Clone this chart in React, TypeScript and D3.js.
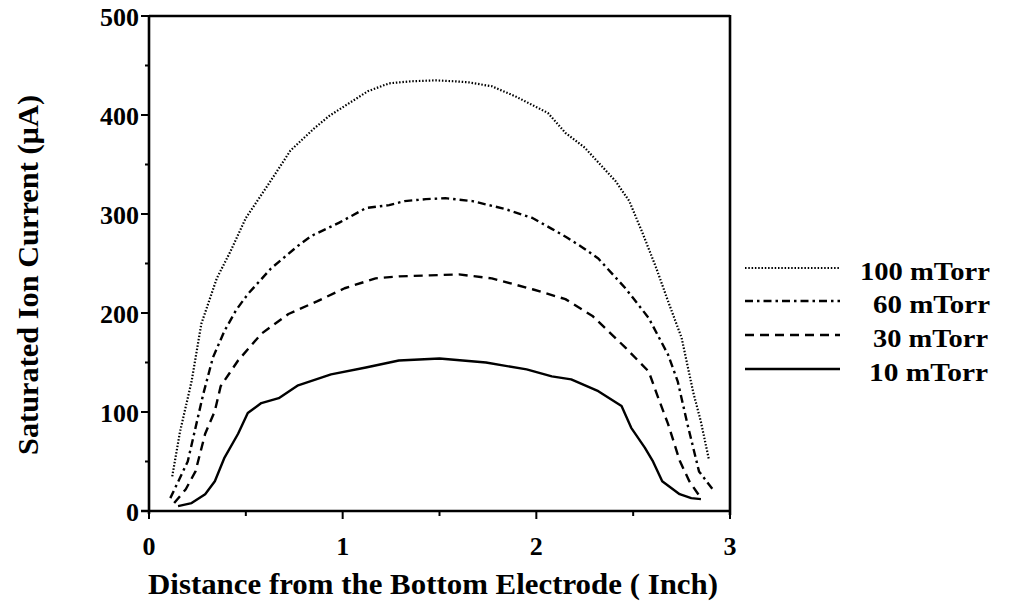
import React from "react";
import * as d3 from "d3";

// Distance from the bottom electrode (inch) and saturated ion current (µA) per pressure
const x100 = [0.12, 0.16, 0.22, 0.27, 0.35, 0.42, 0.50, 0.62, 0.73, 0.85, 0.93, 1.05, 1.13, 1.24, 1.35, 1.48, 1.58, 1.65, 1.77, 1.89, 1.98, 2.06, 2.15, 2.25, 2.33, 2.41, 2.48, 2.55, 2.62, 2.68, 2.75, 2.81, 2.85, 2.89];
const y100 = [35, 80, 131, 189, 235, 262, 296, 331, 364, 386, 399, 414, 424, 432, 434, 435, 434, 433, 429, 419, 410, 402, 382, 367, 350, 333, 313, 280, 245, 212, 175, 120, 90, 53];

const x60 = [0.11, 0.20, 0.28, 0.33, 0.39, 0.45, 0.51, 0.63, 0.77, 0.84, 0.98, 1.12, 1.24, 1.32, 1.43, 1.53, 1.67, 1.84, 1.98, 2.08, 2.16, 2.24, 2.32, 2.46, 2.58, 2.68, 2.73, 2.78, 2.84, 2.91];
const y60 = [13, 50, 118, 155, 182, 203, 219, 245, 268, 278, 291, 306, 309, 313, 315, 316, 313, 305, 296, 285, 276, 266, 255, 225, 195, 158, 131, 88, 40, 22];

const x30 = [0.13, 0.19, 0.24, 0.29, 0.34, 0.37, 0.46, 0.58, 0.72, 0.87, 1.01, 1.17, 1.29, 1.45, 1.60, 1.77, 1.98, 2.15, 2.29, 2.46, 2.58, 2.63, 2.68, 2.74, 2.79, 2.85];
const y30 = [8, 22, 40, 78, 101, 126, 152, 179, 199, 212, 225, 235, 237, 238, 239, 235, 224, 214, 197, 165, 141, 114, 88, 51, 30, 13];

const x10 = [0.15, 0.22, 0.29, 0.34, 0.39, 0.46, 0.51, 0.58, 0.67, 0.77, 0.94, 1.12, 1.29, 1.50, 1.74, 1.95, 2.08, 2.18, 2.32, 2.44, 2.49, 2.56, 2.60, 2.65, 2.74, 2.80, 2.85];
const y10 = [5, 8, 17, 30, 54, 78, 99, 109, 114, 127, 138, 145, 152, 154, 150, 143, 136, 133, 121, 106, 84, 64, 51, 30, 17, 13, 12];

const seriesLabels = ["100 mTorr", "60 mTorr", "30 mTorr", "10 mTorr"];
const xTicks = [0, 1, 2, 3];
const yTicks = [0, 100, 200, 300, 400, 500];

const FONT = "'Liberation Serif', 'Times New Roman', serif";

export default function App() {
  const W = 1010;
  const H = 609;
  const left = 149, right = 730, top = 16, bottom = 511;

  const x = d3.scaleLinear().domain([0, 3]).range([left, right]);
  const y = d3.scaleLinear().domain([0, 500]).range([bottom, top]);

  const line = d3
    .line<[number, number]>()
    .x((d) => x(d[0]))
    .y((d) => y(d[1]))
    .curve(d3.curveLinear);

  const series = [
    { xs: x100, ys: y100, dash: "1.5 1.8", width: 2.2 },
    { xs: x60, ys: y60, dash: "8 4 2.5 4", width: 2.4 },
    { xs: x30, ys: y30, dash: "9 6", width: 2.4 },
    { xs: x10, ys: y10, dash: "", width: 2.4 },
  ];

  const minorY = d3.range(50, 500, 100);
  const minorX = [0.5, 1.5, 2.5];

  // legend rows
  const legendY = [268, 301, 335, 369];
  const legendTextX = [860, 873, 873, 869];
  const legendTextLen = [130, 117, 115, 119];

  return (
    <svg width={W} height={H} style={{ position: "absolute", left: 0, top: 0, background: "#fff" }}>
      <rect x={0} y={0} width={W} height={H} fill="#fff" />
      {/* frame */}
      <g stroke="#000" strokeWidth={2.6} fill="none">
        <line x1={left} y1={top} x2={right} y2={top} />
        <line x1={left} y1={top - 1} x2={left} y2={bottom + 3} />
        <line x1={right} y1={top - 1} x2={right} y2={bottom + 4} />
        <line x1={left - 8} y1={bottom} x2={right} y2={bottom} />
      </g>
      {/* ticks */}
      <g stroke="#000" strokeWidth={2}>
        {yTicks.map((t) => (
          <line key={"yt" + t} x1={left - 8} x2={left} y1={y(t)} y2={y(t)} />
        ))}
        {minorY.map((t) => (
          <line key={"ym" + t} x1={left - 4} x2={left} y1={y(t)} y2={y(t)} />
        ))}
        {xTicks.map((t) => (
          <line key={"xt" + t} x1={x(t)} x2={x(t)} y1={bottom} y2={bottom + 8} />
        ))}
        {minorX.map((t) => (
          <line key={"xm" + t} x1={x(t)} x2={x(t)} y1={bottom} y2={bottom + 5} />
        ))}
      </g>
      {/* tick labels */}
      <g fontFamily={FONT} fontWeight="bold" fontSize={26} fill="#000">
        {yTicks.map((t) => (
          <text key={"yl" + t} x={left - 10} y={y(t) + 10} textAnchor="end">
            {t}
          </text>
        ))}
        {xTicks.map((t) => (
          <text key={"xl" + t} x={x(t)} y={bottom + 44} textAnchor="middle">
            {t}
          </text>
        ))}
      </g>
      {/* axis titles */}
      <text
        x={433}
        y={594}
        textAnchor="middle"
        fontFamily={FONT}
        fontWeight="bold"
        fontSize={29}
        fill="#000"
        textLength={570}
        lengthAdjust="spacingAndGlyphs"
      >
        Distance from the Bottom Electrode ( Inch)
      </text>
      <text
        transform={`translate(38,275) rotate(-90)`}
        textAnchor="middle"
        fontFamily={FONT}
        fontWeight="bold"
        fontSize={29}
        fill="#000"
        textLength={360}
        lengthAdjust="spacingAndGlyphs"
      >
        Saturated Ion Current (µA)
      </text>
      {/* curves */}
      <g fill="none" stroke="#000">
        {series.map((s, i) => (
          <path
            key={"s" + i}
            d={line(s.xs.map((v, j) => [v, s.ys[j]] as [number, number])) || ""}
            strokeWidth={s.width}
            strokeDasharray={s.dash || undefined}
            strokeLinejoin="round"
          />
        ))}
      </g>
      {/* legend */}
      <g>
        {series.map((s, i) => (
          <g key={"lg" + i}>
            <line
              x1={745}
              x2={840}
              y1={legendY[i]}
              y2={legendY[i]}
              stroke="#000"
              strokeWidth={s.width}
              strokeDasharray={s.dash || undefined}
            />
            <text
              x={legendTextX[i]}
              y={legendY[i] + 12}
              fontFamily={FONT}
              fontWeight="bold"
              fontSize={25}
              fill="#000"
              textLength={legendTextLen[i]}
              lengthAdjust="spacingAndGlyphs"
            >
              {seriesLabels[i]}
            </text>
          </g>
        ))}
      </g>
    </svg>
  );
}
